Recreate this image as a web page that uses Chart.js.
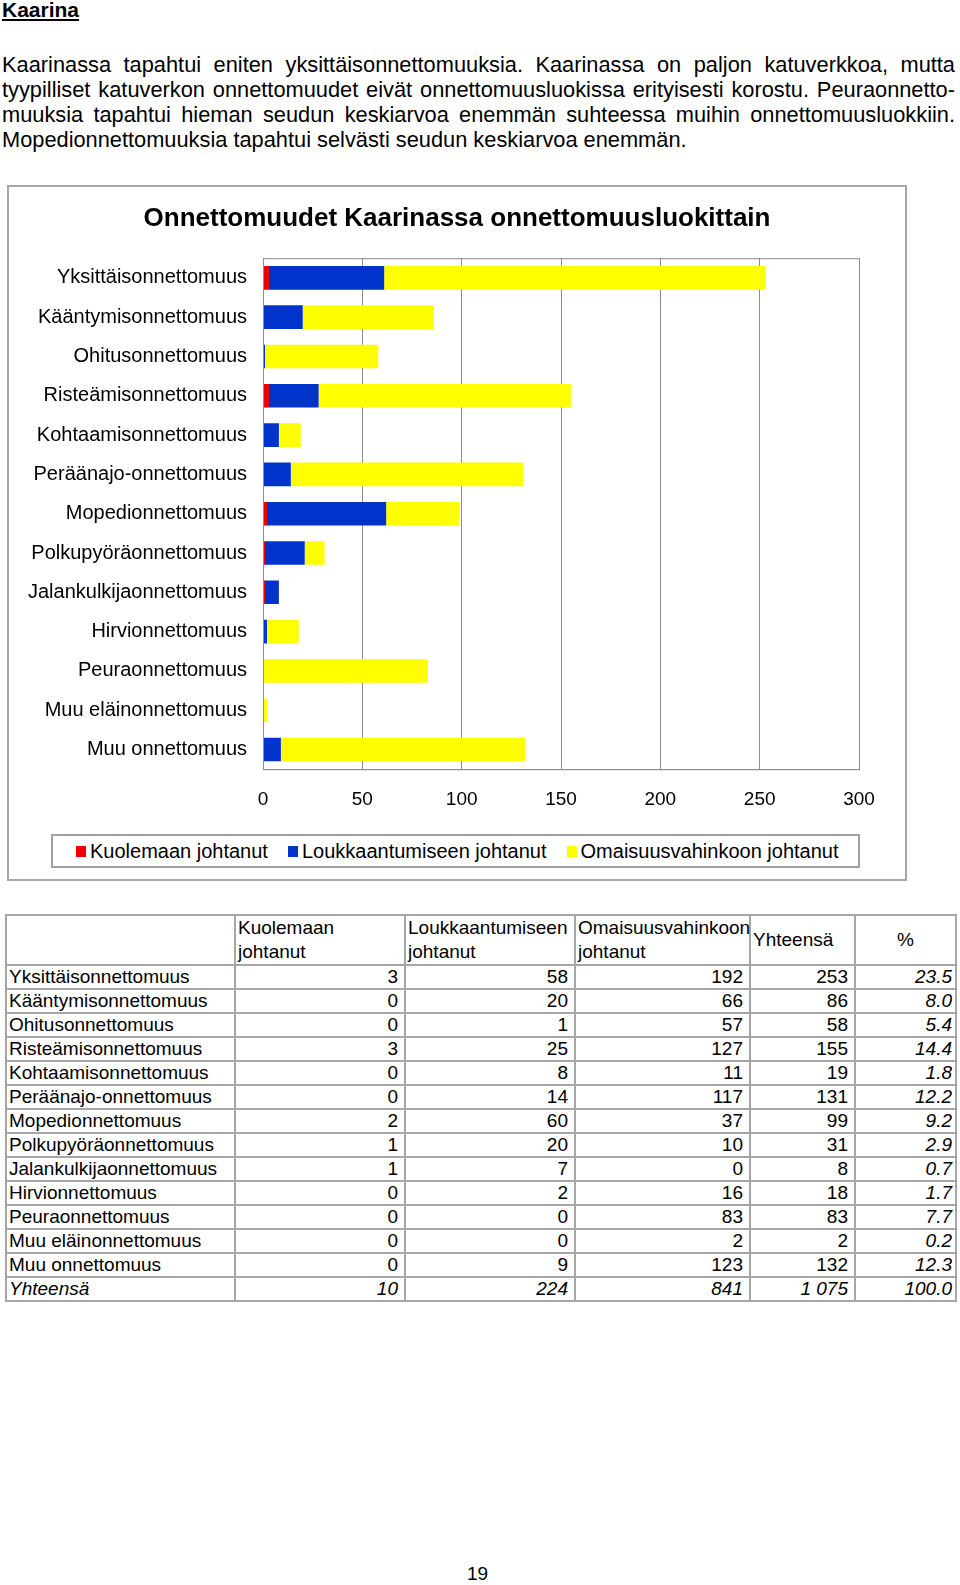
<!DOCTYPE html>
<html lang="fi">
<head>
<meta charset="utf-8">
<title>Kaarina</title>
<script src="https://cdn.jsdelivr.net/npm/chart.js@4.4.0/dist/chart.umd.min.js"></script>
<style>
  html, body { margin: 0; padding: 0; background: #fff; }
  body { width: 960px; height: 1585px; position: relative; font-family: 'Liberation Sans', Arial, sans-serif; color: #000; }
  .heading { position: absolute; left: 2px; top: -2px; font-size: 21px; font-weight: bold; text-decoration: underline; }
  .para { position: absolute; left: 2px; top: 52px; width: 953px; font-size: 21.8px; line-height: 25px; }
  .para div { text-align: justify; text-align-last: justify; white-space: nowrap; }
  .para div.last { text-align-last: left; }
  .chart-box { position: absolute; left: 7px; top: 185px; width: 900px; height: 696px; box-sizing: border-box; border: 2px solid #a6a6a6; }
  .chart-wrap { position: absolute; left: 7px; top: 185px; width: 900px; height: 696px; }
  .legend { position: absolute; left: 51px; top: 834px; width: 809px; height: 34px; box-sizing: border-box; border: 2px solid #a0a0a0; display: flex; align-items: center; padding-left: 23px; gap: 20px; font-size: 20px; background: #fff; }
  .legend span.item { display: flex; align-items: center; white-space: nowrap; }
  .legend i { display: inline-block; width: 10px; height: 11px; margin-right: 4px; }
  table.data { position: absolute; left: 5px; top: 914px; width: 950px; border-collapse: collapse; font-size: 19px; table-layout: fixed; }
  table.data td { border: 2px solid #a6a6a6; height: 20px; line-height: 20px; padding: 1px 6px 1px 2px; white-space: nowrap; }
  table.data thead td { height: 44px; line-height: 24px; vertical-align: top; padding: 0 2px; }
  table.data thead td.mid { vertical-align: middle; }
  table.data td.num { text-align: right; }
  table.data td.pct { text-align: right; font-style: italic; padding-right: 3px; }
  table.data tr.total td { font-style: italic; }
  .pageno { position: absolute; left: 467px; top: 1563px; font-size: 19px; }
</style>
</head>
<body>
<div class="heading">Kaarina</div>
<div class="para">
  <div>Kaarinassa tapahtui eniten yksittäisonnettomuuksia. Kaarinassa on paljon katuverkkoa, mutta</div>
  <div>tyypilliset katuverkon onnettomuudet eivät onnettomuusluokissa erityisesti korostu. Peuraonnetto-</div>
  <div>muuksia tapahtui hieman seudun keskiarvoa enemmän suhteessa muihin onnettomuusluokkiin.</div>
  <div class="last">Mopedionnettomuuksia tapahtui selvästi seudun keskiarvoa enemmän.</div>
</div>

<div class="chart-box"></div>
<div class="chart-wrap"><canvas id="chart-kaarina"></canvas></div>
<div class="legend" id="legend"></div>

<table class="data" id="table">
  <colgroup>
    <col style="width:229px"><col style="width:170px"><col style="width:170px"><col style="width:175px"><col style="width:105px"><col style="width:101px">
  </colgroup>
</table>

<div class="pageno">19</div>

<script>
// Data (luettu taulukosta)
const categories = [
    'Yksittäisonnettomuus', 'Kääntymisonnettomuus', 'Ohitusonnettomuus', 'Risteämisonnettomuus',
    'Kohtaamisonnettomuus', 'Peräänajo-onnettomuus', 'Mopedionnettomuus', 'Polkupyöräonnettomuus',
    'Jalankulkijaonnettomuus', 'Hirvionnettomuus', 'Peuraonnettomuus', 'Muu eläinonnettomuus', 'Muu onnettomuus'
];
const kuolemaan = [3, 0, 0, 3, 0, 0, 2, 1, 1, 0, 0, 0, 0];
const loukkaantumiseen = [58, 20, 1, 25, 8, 14, 60, 20, 7, 2, 0, 0, 9];
const omaisuusvahinkoon = [192, 66, 57, 127, 11, 117, 37, 10, 0, 16, 83, 2, 123];
const yhteensa = [253, 86, 58, 155, 19, 131, 99, 31, 8, 18, 83, 2, 132];
const prosentit = [23.5, 8.0, 5.4, 14.4, 1.8, 12.2, 9.2, 2.9, 0.7, 1.7, 7.7, 0.2, 12.3];
const totals = ['10', '224', '841', '1 075', '100.0'];

const seriesNames = ['Kuolemaan johtanut', 'Loukkaantumiseen johtanut', 'Omaisuusvahinkoon johtanut'];
const seriesColors = ['#ee0000', '#0033cc', '#ffff00'];
const xTicks = [0, 50, 100, 150, 200, 250, 300];

const FONT = "'Liberation Sans', Arial, sans-serif";
Chart.defaults.font.family = FONT;
Chart.defaults.color = '#000';

// plot frame round the chart area
const frameBorder = {
    id: 'frameBorder',
    afterDatasetsDraw(chart) {
        const { ctx, chartArea: a } = chart;
        ctx.save();
        ctx.strokeStyle = '#8c8c8c';
        ctx.lineWidth = 1;
        ctx.strokeRect(a.left + 0.5, a.top + 0.5, a.right - a.left, a.bottom - a.top);
        ctx.restore();
    }
};

const seriesData = [kuolemaan, loukkaantumiseen, omaisuusvahinkoon];

new Chart(document.getElementById('chart-kaarina').getContext('2d'), {
    type: 'bar',
    data: {
        labels: categories,
        datasets: seriesNames.map((name, i) => ({
            label: name,
            data: seriesData[i],
            backgroundColor: seriesColors[i],
            borderWidth: 0,
            barPercentage: 0.6,
            categoryPercentage: 1
        }))
    },
    options: {
        indexAxis: 'y',
        responsive: true,
        maintainAspectRatio: false,
        animation: false,
        layout: { padding: { top: 0, right: 0, bottom: 51, left: 0 } },
        plugins: {
            legend: { display: false },
            tooltip: { enabled: false },
            title: {
                display: true,
                text: 'Onnettomuudet Kaarinassa onnettomuusluokittain',
                color: '#000',
                font: { size: 26, weight: 'bold', family: FONT },
                padding: { top: 18, bottom: 24 }
            }
        },
        scales: {
            x: {
                stacked: true,
                min: 0,
                max: 300,
                afterBuildTicks(scale) { scale.ticks = xTicks.map(v => ({ value: v })); },
                grid: { color: '#8c8c8c', drawTicks: false },
                border: { display: true, color: '#8c8c8c' },
                ticks: { color: '#000', font: { size: 19 }, padding: 19 }
            },
            y: {
                stacked: true,
                grid: { display: false, drawTicks: false },
                border: { display: true, color: '#8c8c8c' },
                ticks: { color: '#000', font: { size: 20 }, padding: 16, autoSkip: false },
                afterFit(scale) { scale.width = 256; }
            },
            // empty right-hand axis: only reserves the white margin right of the plot
            yRight: {
                type: 'linear',
                position: 'right',
                grid: { display: false, drawTicks: false },
                border: { display: false },
                ticks: { display: false },
                afterFit(scale) { scale.width = 48; }
            }
        }
    },
    plugins: [frameBorder]
});

// legend
document.getElementById('legend').innerHTML = seriesNames.map((name, i) =>
    `<span class="item"><i style="background:${seriesColors[i]}"></i>${name}</span>`
).join('');

// table
const table = document.getElementById('table');
table.insertAdjacentHTML('beforeend', `
    <thead><tr>
        <td></td>
        <td>Kuolemaan<br>johtanut</td>
        <td>Loukkaantumiseen<br>johtanut</td>
        <td>Omaisuusvahinkoon<br>johtanut</td>
        <td class="mid">Yhteensä</td>
        <td class="mid" style="text-align:center">%</td>
    </tr></thead>
    <tbody>
        ${categories.map((c, i) => `
            <tr>
                <td>${c}</td>
                <td class="num">${kuolemaan[i]}</td>
                <td class="num">${loukkaantumiseen[i]}</td>
                <td class="num">${omaisuusvahinkoon[i]}</td>
                <td class="num">${yhteensa[i]}</td>
                <td class="pct">${prosentit[i].toFixed(1)}</td>
            </tr>`).join('')}
        <tr class="total">
            <td>Yhteensä</td>
            ${totals.map((t, i) => `<td class="${i === 4 ? 'pct' : 'num'}">${t}</td>`).join('')}
        </tr>
    </tbody>
`);
</script>
</body>
</html>
